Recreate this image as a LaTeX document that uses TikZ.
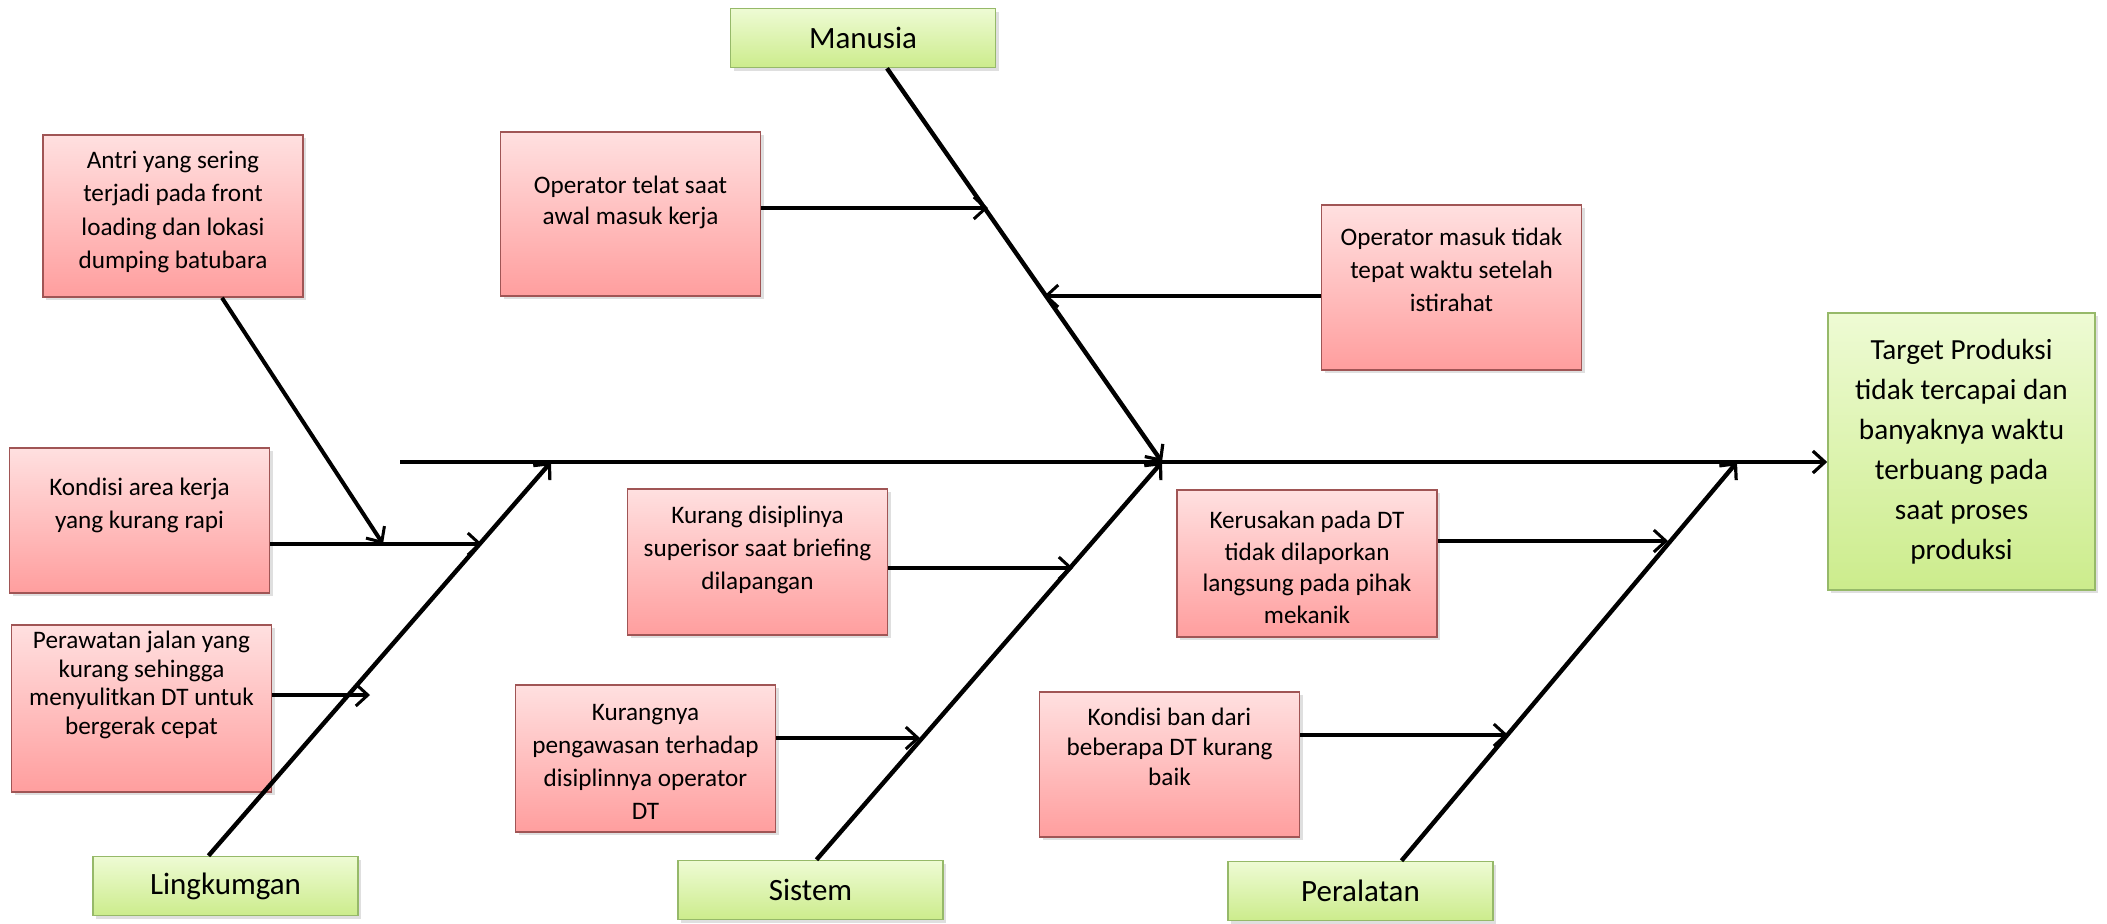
\documentclass[tikz,border=0pt]{standalone}
\usepackage{fontspec}
\setmainfont{Carlito}
\usetikzlibrary{arrows.meta,shadows}
\definecolor{redtop}{RGB}{255,224,224}
\definecolor{redbot}{RGB}{255,158,158}
\definecolor{redline}{RGB}{160,85,85}
\definecolor{grntop}{RGB}{238,251,212}
\definecolor{grnbot}{RGB}{204,236,140}
\definecolor{grnline}{RGB}{150,185,105}
\newcommand{\firstln}{\rule{0pt}{10pt}}
\tikzset{
  x=0.5pt, y=-0.5pt,
  redbox/.style={draw=redline, line width=0.8pt, top color=redtop, bottom color=redbot,
    inner sep=0pt, minimum width=130pt,
    drop shadow={shadow xshift=1.5pt, shadow yshift=-1.5pt, opacity=0.25}},
  grnbox/.style={draw=grnline, line width=0.8pt, top color=grntop, bottom color=grnbot,
    inner sep=0pt, minimum width=132.5pt, minimum height=29.5pt,
    font=\fontsize{15.5}{18}\selectfont,
    drop shadow={shadow xshift=1.5pt, shadow yshift=-1.5pt, opacity=0.25}},
  txt/.style={anchor=north, inner sep=0pt, align=center, font=\fontsize{12.6}{#1}\selectfont},
  txt/.default=16.5,
  bone/.style={line width=2.2pt, -{Straight Barb[length=6pt,width=11pt,line width=1.6pt]}},
  sub/.style={line width=2pt, -{Straight Barb[length=6pt,width=11pt,line width=1.5pt]}},
}
\begin{document}
\begin{tikzpicture}
\useasboundingbox (0,0) rectangle (2107,923);
% cause boxes
\node[redbox, minimum height=81pt]   (antri)     at (173,216)    {};
\node[txt=16.6] at ([yshift=-7pt]antri.north) {\firstln Antri yang sering\\terjadi pada front\\loading dan lokasi\\dumping batubara};
\node[redbox, minimum height=72.5pt] (kondisi)   at (139.5,520.5) {};
\node[txt=16.5] at ([yshift=-14pt]kondisi.north) {\firstln Kondisi area kerja\\yang kurang rapi};
\node[redbox, minimum height=83.5pt] (perawatan) at (141.5,708.5) {};
\node[txt=14.3] at ([yshift=-2pt]perawatan.north) {\firstln Perawatan jalan yang\\kurang sehingga\\menyulitkan DT untuk\\bergerak cepat};
\node[redbox, minimum height=82pt]   (telat)     at (630.5,214)  {};
\node[txt=15.5] at ([yshift=-21pt]telat.north) {\firstln Operator telat saat\\awal masuk kerja};
\node[redbox, minimum height=82.5pt] (masuk)     at (1451.5,287.5) {};
\node[txt=16.5] at ([yshift=-10.5pt]masuk.north) {\firstln Operator masuk tidak\\tepat waktu setelah\\istirahat};
\node[redbox, minimum height=73pt]   (disiplin)  at (757.5,562)  {};
\node[txt=16.5] at ([yshift=-7.5pt]disiplin.north) {\firstln Kurang disiplinya\\superisor saat briefing\\dilapangan};
\node[redbox, minimum height=73.5pt] (kurangnya) at (645.5,758.5) {};
\node[txt=16.5] at ([yshift=-8pt]kurangnya.north) {\firstln Kurangnya\\pengawasan terhadap\\disiplinnya operator\\DT};
\node[redbox, minimum height=73.5pt] (kerusakan) at (1307,563.5) {};
\node[txt=15.8] at ([yshift=-9.5pt]kerusakan.north) {\firstln Kerusakan pada DT\\tidak dilaporkan\\langsung pada pihak\\mekanik};
\node[redbox, minimum height=72.5pt] (ban)       at (1169.5,764.5) {};
\node[txt=15] at ([yshift=-7pt]ban.north) {\firstln Kondisi ban dari\\beberapa DT kurang\\baik};
% effect
\node[grnbox, minimum width=133.5pt, minimum height=138.5pt] (target) at (1961.5,451.5) {};
\node[txt, font=\fontsize{14.6}{20}\selectfont] at ([yshift=-11.5pt]target.north) {\rule{0pt}{12pt}Target Produksi\\tidak tercapai dan\\banyaknya waktu\\terbuang pada\\saat proses\\produksi};
% categories
\node[grnbox] (manusia)   at (863,38)     {Manusia};
\node[grnbox] (lingk)     at (225.5,886)  {Lingkumgan};
\node[grnbox] (sistem)    at (810.5,890)  {Sistem};
\node[grnbox] (peralatan) at (1360.5,891) {Peralatan};
% junctions
\coordinate (spL) at (400,462);
\coordinate (jM) at (1162,462);
\coordinate (jL) at (551,462);
\coordinate (jP) at (1737,462);
\coordinate (tT) at (988,208);
\coordinate (tM) at (1044,296);
\coordinate (tA) at (383,544);
\coordinate (tK) at (482,544);
\coordinate (tP) at (370,695);
\coordinate (tD) at (1073,568);
\coordinate (tG) at (920,738);
\coordinate (tR) at (1668,541);
\coordinate (tB) at (1508,735);
% spine and bones
\draw[bone] (spL) -- (spL -| target.west);
\draw[bone] ([xshift=12pt]manusia.south) -- (jM);
\draw[bone] ([xshift=3pt]sistem.north) -- (jM);
\draw[bone] ([xshift=-8.5pt]lingk.north) -- (jL);
\draw[bone] ([xshift=20.5pt]peralatan.north) -- (jP);
% sub causes
\draw[sub] (telat.east |- tT) -- (tT);
\draw[sub] (masuk.west |- tM) -- (tM);
\draw[sub] ([xshift=24.5pt]antri.south) -- (tA);
\draw[sub] (kondisi.east |- tK) -- (tK);
\draw[sub] (perawatan.east |- tP) -- (tP);
\draw[sub] (disiplin.east |- tD) -- (tD);
\draw[sub] (kurangnya.east |- tG) -- (tG);
\draw[sub] (kerusakan.east |- tR) -- (tR);
\draw[sub] (ban.east |- tB) -- (tB);
\end{tikzpicture}
\end{document}
